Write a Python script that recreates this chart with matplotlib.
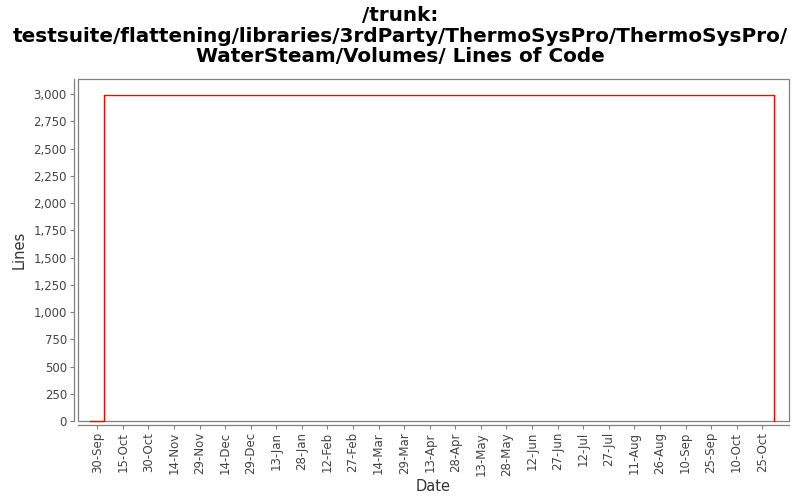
import matplotlib
matplotlib.use("Agg")
import matplotlib.pyplot as plt
import matplotlib.dates as mdates
from matplotlib.patches import Rectangle
from matplotlib.ticker import FuncFormatter, MultipleLocator
import pandas as pd

title = "/trunk:\ntestsuite/flattening/libraries/3rdParty/ThermoSysPro/ThermoSysPro/\nWaterSteam/Volumes/ Lines of Code"
dates = pd.to_datetime(["2010-09-26", "2010-10-04", "2011-11-01"])
lines = [0, 2990, 0]
tick_dates = pd.date_range("2010-09-30", periods=27, freq="15D")

fig = plt.figure(figsize=(8, 5), dpi=100)
ax = fig.add_axes([78/800, 1-421/500, (789-78)/800, (421-79)/500])

ax.step(dates, lines, where="post", color="red", lw=1.0, zorder=5, clip_on=False)

ax.set_xlim(pd.Timestamp("2010-09-30") - pd.Timedelta(days=11.3),
            pd.Timestamp("2010-09-30") + pd.Timedelta(days=405.7))
ax.set_ylim(0, 3140)

ax.set_xticks(tick_dates)
ax.xaxis.set_major_formatter(mdates.DateFormatter("%d-%b"))
ax.yaxis.set_major_locator(MultipleLocator(250))
ax.yaxis.set_major_formatter(FuncFormatter(lambda v, p: f"{int(v):,}"))

ax.tick_params(axis="both", colors="#808080", labelcolor="#444444", labelsize=8.5, length=3, width=0.8)
ax.tick_params(axis="x", pad=2, labelrotation=90)
ax.tick_params(axis="y", pad=2)

for side in ["top", "right"]:
    ax.spines[side].set_visible(False)
for side in ["left", "bottom"]:
    ax.spines[side].set_position(("outward", 3))
    ax.spines[side].set_color("#808080")
    ax.spines[side].set_linewidth(0.9)

ax.add_patch(Rectangle((0, 0), 1, 1, transform=ax.transAxes, fill=False,
                       edgecolor="#808080", lw=0.9, zorder=4, clip_on=False))

ax.set_xlabel("Date", fontsize=10.5, color="#333333", labelpad=2)
ax.set_ylabel("Lines", fontsize=10.5, color="#333333", labelpad=5)

fig.text(0.5, 1-36/500, title, ha="center", va="center", fontsize=14.4,
         fontweight="bold", linespacing=1.1)

fig.savefig("out.png", dpi=100)
